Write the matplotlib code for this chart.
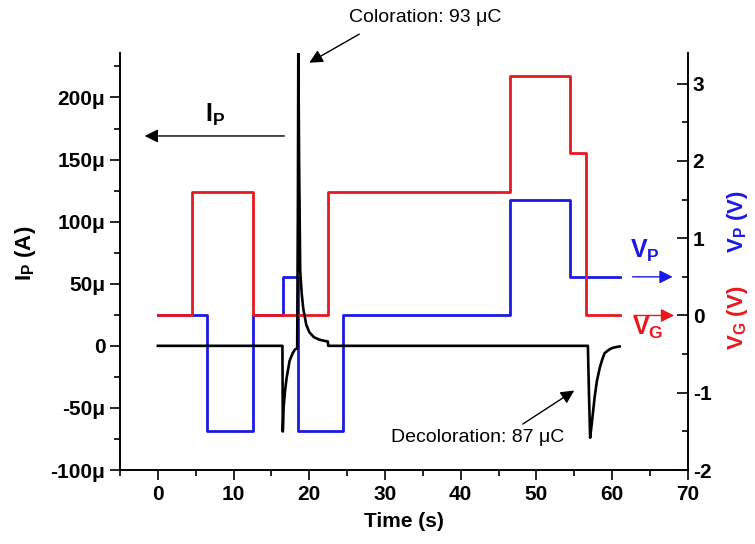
import matplotlib
matplotlib.use('Agg')
import matplotlib.pyplot as plt
from matplotlib.ticker import MultipleLocator, FuncFormatter

plt.rcParams['font.family'] = ['Liberation Sans', 'DejaVu Sans']
plt.rcParams['mathtext.fontset'] = 'custom'
plt.rcParams['mathtext.rm'] = 'Liberation Sans'
plt.rcParams['mathtext.bf'] = 'Liberation Sans:bold'
plt.rcParams['mathtext.it'] = 'Liberation Sans:italic'
plt.rcParams['axes.unicode_minus'] = False

# gate voltage V_G (step, value holds until next time)
vg_t = [0, 4.5, 12.5, 22.5, 46.5, 54.5, 56.5, 61]
vg_v = [0, 1.6, 0, 1.6, 3.1, 2.1, 0, 0]

# V_P (step)
vp_t = [0, 6.5, 12.5, 16.5, 18.5, 24.5, 46.5, 54.5, 61]
vp_v = [0, -1.5, 0, 0.5, -1.5, 0, 1.5, 0.5, 0.5]

# current I_P in uA
ip_t = [0, 16.45, 16.5, 16.6, 16.8, 17.0, 17.4, 17.8, 18.1, 18.4,
        18.5, 18.55, 18.65, 18.8, 19.0, 19.2, 19.6, 20.0, 20.6, 21.3, 22.0, 22.45, 22.5,
        56.8, 56.95, 57.1, 57.25, 57.45, 57.7, 58.0, 58.4, 58.7, 59.0, 59.5, 59.9, 60.5, 61.0]
ip_ua = [0, 0, -69, -50, -36, -26, -12, -6, -3, -2,
         120, 245, 150, 60, 42, 30, 17, 11, 7, 5, 4, 3.5, 0,
         0, -40, -74, -66, -55, -41, -28, -17, -11, -6, -3.5, -2, -1, -0.5]

red = '#e8191e'
blue = '#1a1ae6'
arrow = dict(arrowstyle='-|>', color='black', lw=1, mutation_scale=20, shrinkA=0, shrinkB=0)

fig = plt.figure(figsize=(7.55, 5.44), dpi=100)
ax = fig.add_axes([0.159, 0.136, 0.752, 0.767])
ax2 = ax.twinx()

ax2.step(vp_t, vp_v, where='post', color=blue, lw=2)
ax2.step(vg_t, vg_v, where='post', color=red, lw=2)
ax.plot(ip_t, ip_ua, color='black', lw=1.9)

ax.set_zorder(ax2.get_zorder() + 1)
ax.patch.set_visible(False)

ax.set_xlim(-5, 70)
ax.set_ylim(-100, 236)
ax2.set_ylim(-2, 3.4)

for a in (ax, ax2):
    a.spines['top'].set_visible(False)
    for s in a.spines.values():
        s.set_linewidth(1.2)

ax.xaxis.set_major_locator(MultipleLocator(10))
ax.xaxis.set_minor_locator(MultipleLocator(5))
ax.yaxis.set_major_locator(MultipleLocator(50))
ax.yaxis.set_minor_locator(MultipleLocator(25))
ax.yaxis.set_major_formatter(FuncFormatter(lambda v, p: '0' if v == 0 else '%dμ' % v))
ax2.yaxis.set_major_locator(MultipleLocator(1))
ax2.yaxis.set_minor_locator(MultipleLocator(0.5))

ax.tick_params(which='major', direction='out', length=7, width=1.2, labelsize=15)
ax.tick_params(which='minor', direction='out', length=4, width=1.2)
ax2.tick_params(which='major', direction='in', length=8, width=1.2, labelsize=15)
ax2.tick_params(which='minor', direction='in', length=4, width=1.2)
for lab in ax.get_xticklabels() + ax.get_yticklabels() + ax2.get_yticklabels():
    lab.set_fontweight('bold')

ax.set_xlabel('Time (s)', fontsize=15, fontweight='bold', labelpad=6)
fig.text(26 / 755, 1 - 253 / 544, r'$\mathbf{I_P}$ (A)', rotation=90, fontsize=16,
         fontweight='bold', ha='center', va='center')
fig.text(738 / 755, 1 - 222 / 544, r'$\mathbf{V_P}$ (V)', rotation=90, fontsize=16,
         fontweight='bold', ha='center', va='center', color=blue)
fig.text(738 / 755, 1 - 318 / 544, r'$\mathbf{V_G}$ (V)', rotation=90, fontsize=16,
         fontweight='bold', ha='center', va='center', color=red)

# annotations
ax.text(35.3, 264, 'Coloration: 93 μC', fontsize=14, ha='center', va='center', clip_on=False)
ax.annotate('', xy=(20.0, 228), xytext=(26.6, 251), annotation_clip=False, arrowprops=arrow)
ax.text(53.7, -74, 'Decoloration: 87 μC', fontsize=14, ha='right', va='center')
ax.annotate('', xy=(55.0, -36), xytext=(48.2, -63), arrowprops=arrow)
ax.annotate('', xy=(-1.75, 169), xytext=(16.7, 169), arrowprops=arrow)
ax.text(7.5, 186, r'$\mathbf{I_P}$', fontsize=18, ha='center', va='center')

ax2.annotate('', xy=(68.0, 0.5), xytext=(62.7, 0.5),
             arrowprops=dict(arrow, color=blue))
ax2.annotate('', xy=(68.2, 0), xytext=(62.9, 0),
             arrowprops=dict(arrow, color=red))
ax2.text(64.3, 0.84, r'$\mathbf{V_P}$', fontsize=18, color=blue, ha='center', va='center')
ax2.text(64.7, -0.16, r'$\mathbf{V_G}$', fontsize=18, color=red, ha='center', va='center')

fig.savefig('out.png', dpi=100)
